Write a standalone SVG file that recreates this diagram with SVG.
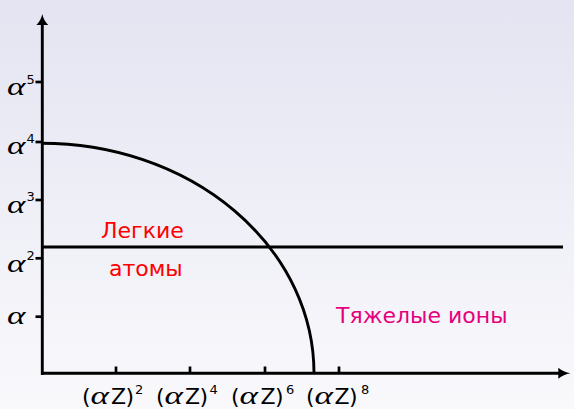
<svg xmlns="http://www.w3.org/2000/svg" width="574" height="409" viewBox="0 0 574 409">
<defs>
<linearGradient id="bg" x1="0" y1="0" x2="0" y2="1">
<stop offset="0" stop-color="#e4e4f2"/>
<stop offset="1" stop-color="#f9f9fc"/>
</linearGradient>
<style>
.ax{stroke:#000;stroke-width:2.9;fill:none}
.tk{stroke:#000;stroke-width:2.7;fill:none}
.gr{font-family:"Liberation Serif","DejaVu Serif",serif;font-style:italic;font-size:26px}
.sup{font-family:"DejaVu Sans","Liberation Sans",sans-serif;font-size:13px}
.lbl{font-family:"DejaVu Sans","Liberation Sans",sans-serif;font-size:22px}
</style>
</defs>
<rect x="0" y="0" width="574" height="409" fill="url(#bg)"/>
<g id="connectors">
<line class="ax" x1="42.3" y1="375" x2="42.3" y2="22"/>
<path d="M42.3,14 Q43.6,20.5 48.3,25 L36.3,25 Q41,20.5 42.3,14 Z" fill="#000"/>
<line class="ax" x1="41" y1="373.3" x2="561" y2="373.3"/>
<path d="M570.5,373.3 Q563.5,372 558.3,367.8 L558.3,378.8 Q563.5,374.6 570.5,373.3 Z" fill="#000"/>
<g id="yticks">
<line class="tk" x1="35.5" y1="82" x2="42" y2="82"/>
<line class="tk" x1="35.5" y1="142" x2="42" y2="142"/>
<line class="tk" x1="35.5" y1="200" x2="42" y2="200"/>
<line class="tk" x1="35.5" y1="258.3" x2="42" y2="258.3"/>
<line class="tk" x1="35.5" y1="316.7" x2="42" y2="316.7"/>
</g>
<g id="xticks">
<line class="tk" x1="116" y1="366.5" x2="116" y2="373"/>
<line class="tk" x1="190" y1="366.5" x2="190" y2="373"/>
<line class="tk" x1="265" y1="366.5" x2="265" y2="373"/>
<line class="tk" x1="339" y1="366.5" x2="339" y2="373"/>
</g>
<line id="boundary" class="ax" x1="42" y1="247" x2="563" y2="247"/>
<path id="curve" class="ax" d="M42,143.3 A272,230 0 0 1 314,373.3"/>
</g>
<g id="ylabels">
<text class="gr" transform="translate(7,94.5) scale(1.35,1)">α</text>
<text class="sup" x="26.5" y="83.5">5</text>
<text class="gr" transform="translate(7,153.5) scale(1.35,1)">α</text>
<text class="sup" x="26.5" y="143">4</text>
<text class="gr" transform="translate(7,212.5) scale(1.35,1)">α</text>
<text class="sup" x="26.5" y="200.5">3</text>
<text class="gr" transform="translate(7,272) scale(1.35,1)">α</text>
<text class="sup" x="26.5" y="260">2</text>
<text class="gr" transform="translate(7,323.5) scale(1.35,1)">α</text>
</g>
<g id="xlabels">
<text class="lbl" x="82" y="404">(</text><text class="gr" transform="translate(90.5,404) scale(1.35,1)">α</text><text class="lbl" x="111" y="404">Z</text><text class="lbl" x="125.5" y="404">)</text><text class="sup" x="135" y="393.5">2</text>
<text class="lbl" x="156" y="404">(</text><text class="gr" transform="translate(164.5,404) scale(1.35,1)">α</text><text class="lbl" x="185" y="404">Z</text><text class="lbl" x="199.5" y="404">)</text><text class="sup" x="209.5" y="393.5">4</text>
<text class="lbl" x="231" y="404">(</text><text class="gr" transform="translate(239.5,404) scale(1.35,1)">α</text><text class="lbl" x="260.5" y="404">Z</text><text class="lbl" x="275" y="404">)</text><text class="sup" x="286" y="393.5">6</text>
<text class="lbl" x="306" y="404">(</text><text class="gr" transform="translate(314.5,404) scale(1.35,1)">α</text><text class="lbl" x="334.5" y="404">Z</text><text class="lbl" x="349" y="404">)</text><text class="sup" x="361" y="393.5">8</text>
</g>
<g id="light-atoms">
<text class="lbl" x="101" y="238" fill="#ff0000">Легкие</text>
<text class="lbl" x="109" y="276" fill="#ff0000">атомы</text>
</g>
<g id="heavy-ions">
<text class="lbl" x="336" y="322.5" fill="#e6007e">Тяжелые ионы</text>
</g>
</svg>
